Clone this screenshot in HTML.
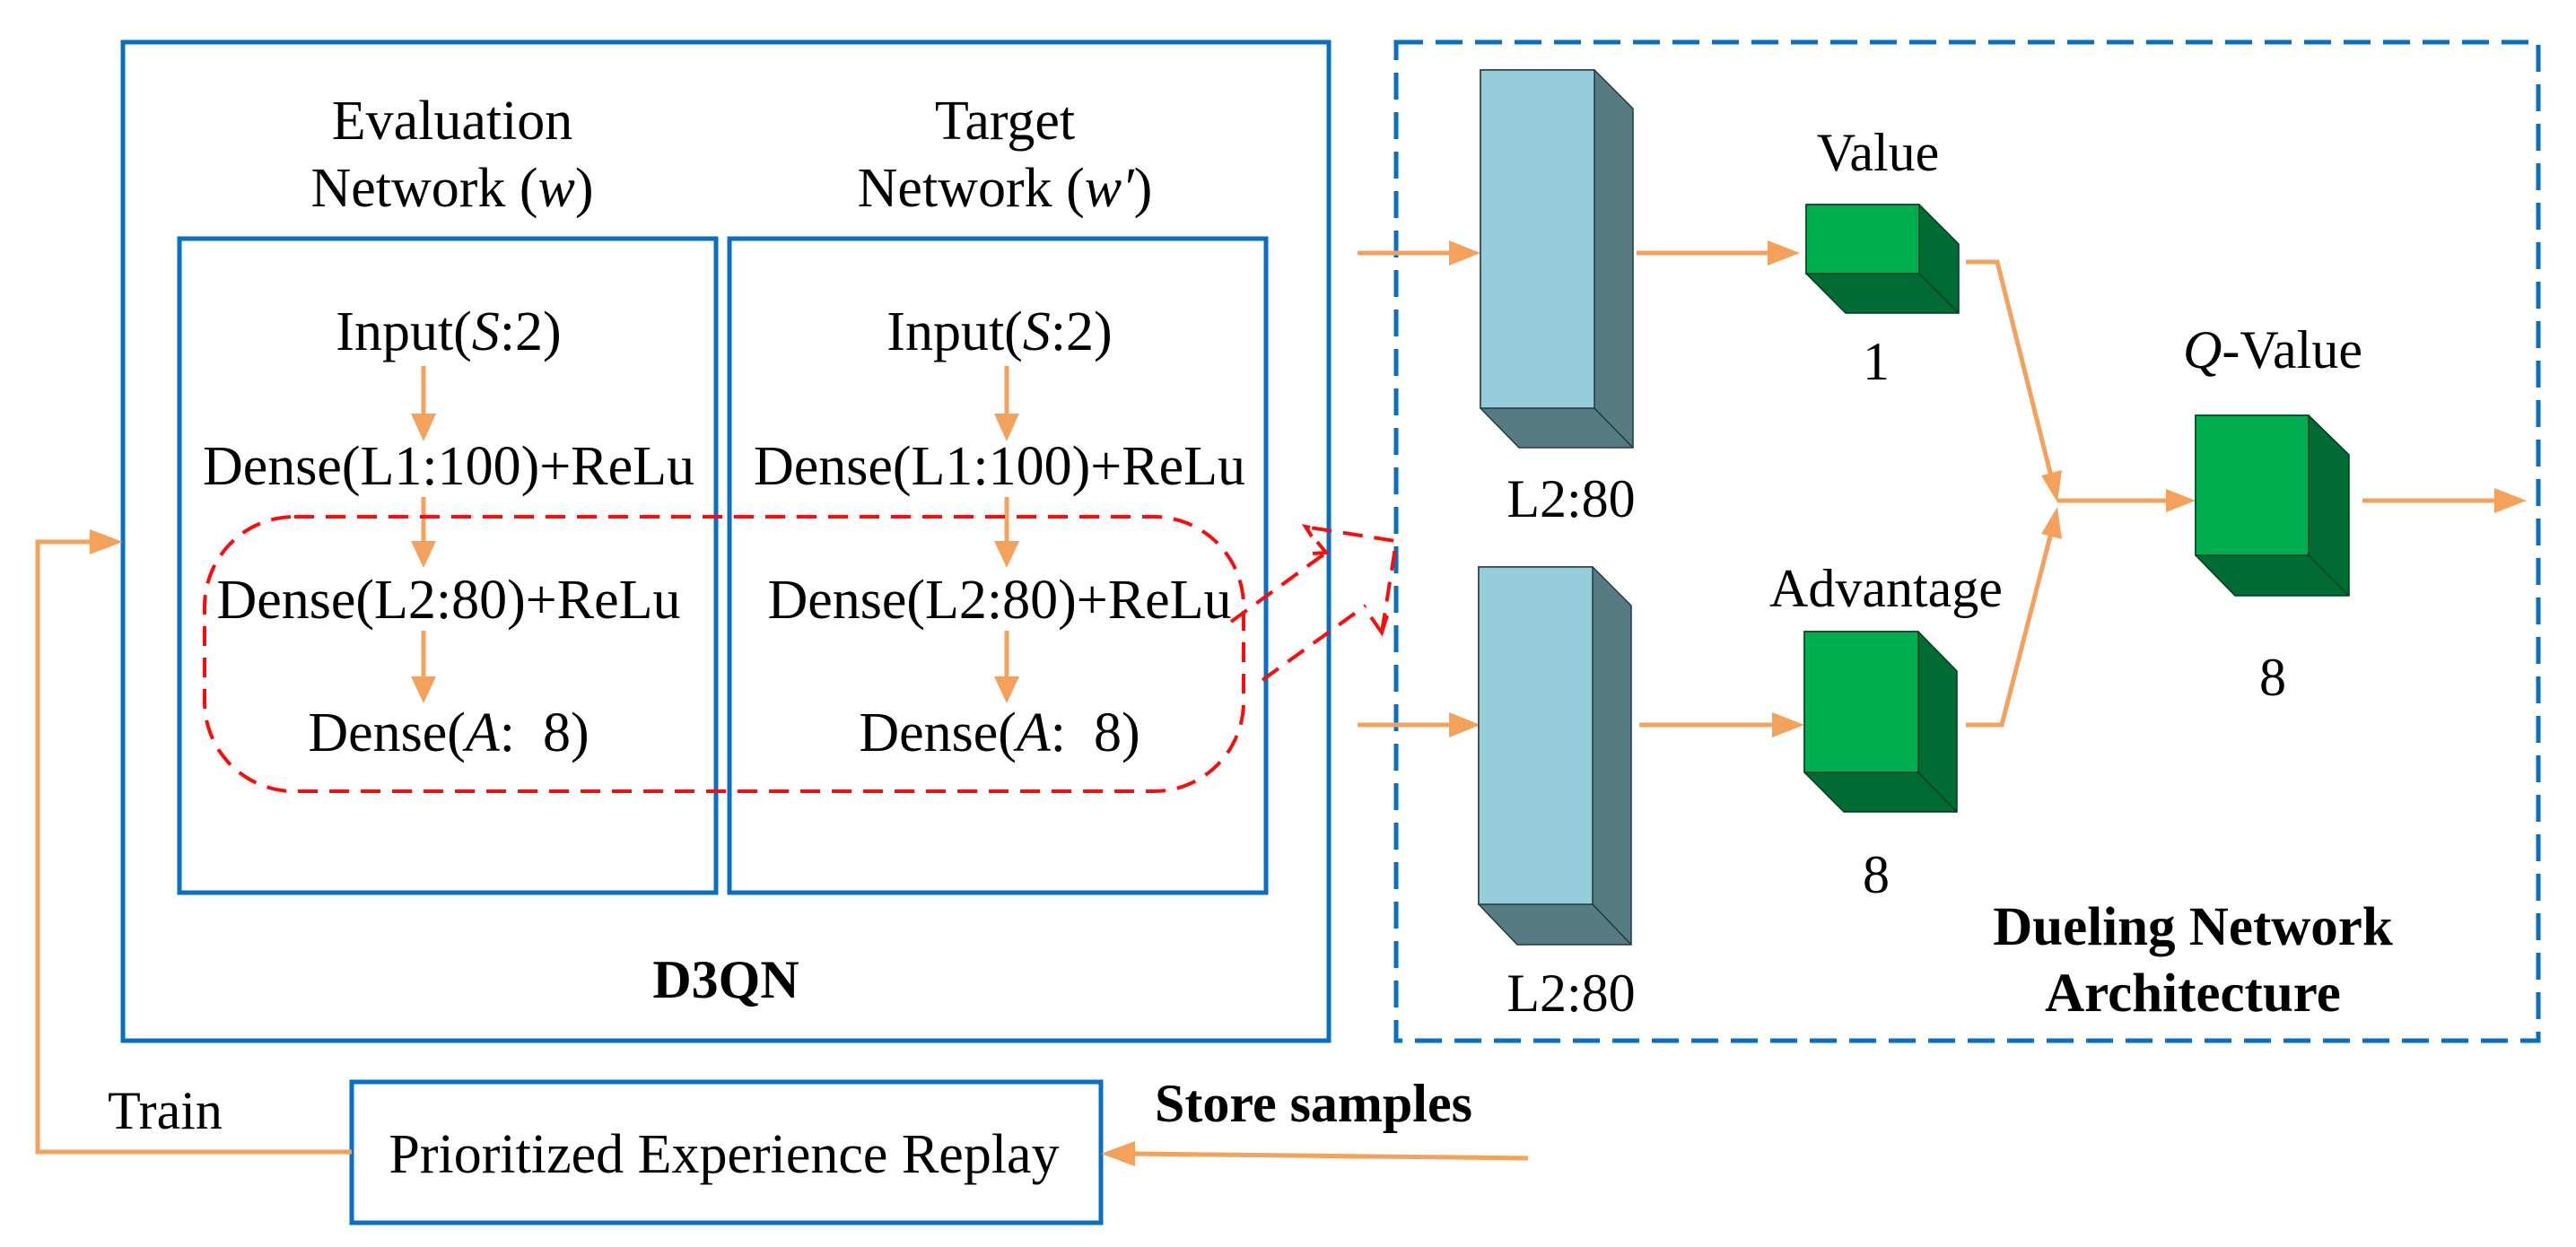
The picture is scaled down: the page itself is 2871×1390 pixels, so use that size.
<!DOCTYPE html>
<html><head><meta charset="utf-8"><style>
html,body{margin:0;padding:0;background:#fff}
svg{display:block}
text{font-family:"Liberation Serif",serif;fill:#000}
</style></head><body>
<svg width="2871" height="1390" viewBox="0 0 2871 1390" xmlns="http://www.w3.org/2000/svg">
<g fill="none" stroke="#0a6fc2" stroke-width="5">
<rect x="137" y="47" width="1344" height="1113"/>
<rect x="200" y="266" width="598" height="729"/>
<rect x="813" y="266" width="598" height="729"/>
<rect x="392" y="1206" width="835" height="157"/>
<rect x="1556" y="47" width="1273" height="1113" stroke-dasharray="30 14"/>
</g>
<g font-size="60" text-anchor="middle">
<text x="504" y="155" font-size="62">Evaluation</text>
<text x="504" y="230" font-size="62">Network (<tspan font-style="italic">w</tspan>)</text>
<text x="1120" y="155" font-size="62">Target</text>
<text x="1120" y="230" font-size="62">Network (<tspan font-style="italic">w′</tspan>)</text>
<text x="500" y="390" font-size="62">Input(<tspan font-style="italic">S</tspan>:2)</text>
<text x="1114" y="390" font-size="62">Input(<tspan font-style="italic">S</tspan>:2)</text>
<text x="500" y="540" font-size="62">Dense(L1:100)+ReLu</text>
<text x="1114" y="540" font-size="62">Dense(L1:100)+ReLu</text>
<text x="500" y="689" font-size="62">Dense(L2:80)+ReLu</text>
<text x="1114" y="689" font-size="62">Dense(L2:80)+ReLu</text>
<text x="500" y="837" font-size="62">Dense(<tspan font-style="italic">A</tspan>: &#160;8)</text>
<text x="1114" y="837" font-size="62">Dense(<tspan font-style="italic">A</tspan>: &#160;8)</text>
<text x="809" y="1112" font-weight="bold">D3QN</text>
<text x="184" y="1258">Train</text>
<text x="807" y="1307" font-size="62">Prioritized Experience Replay</text>
<text x="1464" y="1250" font-weight="bold">Store samples</text>
<text x="1751" y="576">L2:80</text>
<text x="1751" y="1127">L2:80</text>
<text x="2093" y="190">Value</text>
<text x="2091" y="423">1</text>
<text x="2102" y="676">Advantage</text>
<text x="2091" y="995">8</text>
<text x="2533" y="410"><tspan font-style="italic">Q</tspan>-Value</text>
<text x="2533" y="775">8</text>
<text x="2444" y="1053" font-weight="bold" font-size="61">Dueling Network</text>
<text x="2444" y="1127" font-weight="bold" font-size="61">Architecture</text>
</g>
<g stroke="#f4a15b" stroke-width="5" fill="none">
<line x1="472" y1="408" x2="472" y2="465"/><line x1="1122" y1="408" x2="1122" y2="465"/>
<line x1="472" y1="554" x2="472" y2="607"/><line x1="1122" y1="554" x2="1122" y2="607"/>
<line x1="472" y1="703" x2="472" y2="758"/><line x1="1122" y1="703" x2="1122" y2="758"/>
<polyline points="392,1284 42,1284 42,604 105,604"/>
<line x1="1703" y1="1291" x2="1262" y2="1286"/>
<line x1="1513" y1="282" x2="1620" y2="282"/>
<line x1="1513" y1="808" x2="1620" y2="808"/>
<line x1="1824" y1="282" x2="1975" y2="282"/>
<line x1="1827" y1="808" x2="1980" y2="808"/>
<polyline points="2191,292 2226,292 2287,535"/>
<polyline points="2191,808 2231,808 2287,590"/>
<line x1="2293" y1="558" x2="2420" y2="558"/>
<line x1="2633" y1="558" x2="2785" y2="558"/>
</g>
<g fill="#f4a15b">
<polygon points="458,461 486,461 472,492"/><polygon points="1108,461 1136,461 1122,492"/>
<polygon points="458,603 486,603 472,633"/><polygon points="1108,603 1136,603 1122,633"/>
<polygon points="458,754 486,754 472,784"/><polygon points="1108,754 1136,754 1122,784"/>
<polygon points="100,590 137,604 100,618"/>
<polygon points="1265,1272 1227,1286 1265,1300"/>
<polygon points="1615,268 1650,282 1615,296"/>
<polygon points="1615,794 1650,808 1615,822"/>
<polygon points="1970,268 2006,282 1970,296"/>
<polygon points="1975,794 2011,808 1975,822"/>
<polygon points="2275,530 2298,524 2293,560"/>
<polygon points="2275,595 2298,601 2293,565"/>
<polygon points="2414,545 2447,558 2414,571"/>
<polygon points="2780,544 2816,558 2780,572"/>
</g>
<g stroke="#1f3a40" stroke-width="1.5">
<polygon points="1650,78 1777,78 1820,121 1820,499 1693,499 1650,455" fill="#567b82"/>
<rect x="1650" y="78" width="127" height="377" fill="#96cddb"/>
<line x1="1777" y1="455" x2="1820" y2="499"/>
<polygon points="1648,632 1775,632 1818,675 1818,1053 1691,1053 1648,1008" fill="#567b82"/>
<rect x="1648" y="632" width="127" height="376" fill="#96cddb"/>
<line x1="1775" y1="1008" x2="1818" y2="1053"/>
</g>
<g stroke="#003d1d" stroke-width="1.5">
<polygon points="2013,228 2139,228 2183,272 2183,349 2057,349 2013,305" fill="#006b33"/>
<rect x="2013" y="228" width="126" height="77" fill="#00ae4f"/>
<line x1="2139" y1="305" x2="2183" y2="349"/>
<polygon points="2011,704 2138,704 2181,748 2181,905 2055,905 2011,861" fill="#006b33"/>
<rect x="2011" y="704" width="127" height="157" fill="#00ae4f"/>
<line x1="2138" y1="861" x2="2181" y2="905"/>
<polygon points="2447,463 2573,463 2618,507 2618,664 2491,664 2447,619" fill="#006b33"/>
<rect x="2447" y="463" width="126" height="156" fill="#00ae4f"/>
<line x1="2573" y1="619" x2="2618" y2="664"/>
</g>
<g stroke="#ff0a0a" stroke-width="4" fill="none" stroke-dasharray="22 13">
<rect x="228" y="576" width="1158" height="306" rx="100" ry="100"/>
<line x1="1372" y1="693" x2="1478" y2="616"/>
<line x1="1407" y1="758" x2="1522" y2="675"/>
<polyline points="1540,705 1554,617 1555,603 1460,588"/>
</g>
<g stroke="#ff0a0a" stroke-width="4" fill="none">
<polyline points="1468,604 1478,616 1463,617"/>
<polyline points="1528,688 1540,705 1546,686"/>
<polyline points="1460,588 1455,587 1462,598"/>
</g>
</svg>
</body></html>
